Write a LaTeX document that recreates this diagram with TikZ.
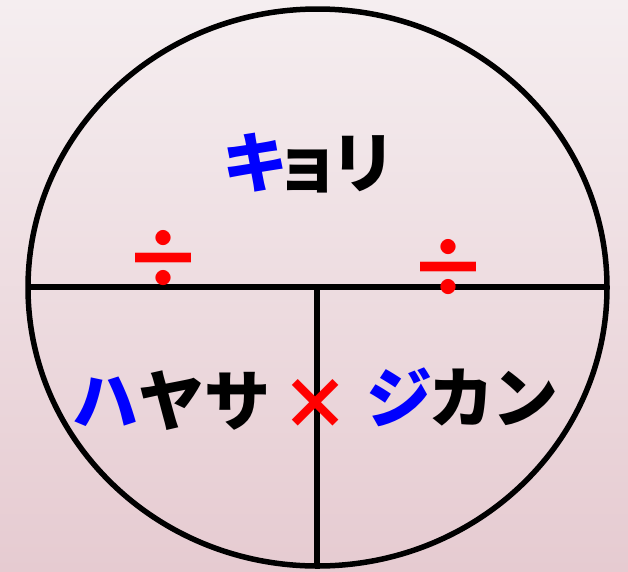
\documentclass[tikz,border=0pt]{standalone}
\usepackage{fontspec}
\newfontfamily\jp{Noto Sans CJK JP}[UprightFont=* Black]
\definecolor{bgtop}{RGB}{245,238,240}
\definecolor{bgbot}{RGB}{230,203,209}
\definecolor{kblue}{RGB}{0,0,255}
\definecolor{kred}{RGB}{255,0,0}
\begin{document}
\begin{tikzpicture}[x=1pt,y=-1pt,
  word/.style={font=\jp\fontsize{66}{66}\selectfont, inner sep=0pt},
  op/.style={font=\jp\fontsize{70}{70}\selectfont, text=kred, inner sep=0pt},
  divop/.style={font=\jp\fontsize{80}{80}\selectfont, text=kred, inner sep=0pt},
  rim/.style={line width=5.5pt, draw=black}]
\useasboundingbox (0,0) rectangle (628,571);
\shade[top color=bgtop, bottom color=bgbot] (0,0) rectangle (628,571);
\coordinate (c) at (317.5,287.5);
\coordinate (L) at (28,287);
\coordinate (R) at (607,287);
\coordinate (M) at (317,287);
\coordinate (B) at (317,566);
\draw[rim] (c) ellipse [x radius=289.5, y radius=278.5];
\draw[rim] (L) -- (R);
\draw[rim] (M) -- (B);
\node[word] (kyori) at (309,163) {\textcolor{kblue}{キ}\kern-14pt ョ\kern-10pt リ};
\node[word] (hayasa) at (171.5,401) {\textcolor{kblue}{ハ}ヤサ};
\node[word] (jikan) at (462.5,397) {\textcolor{kblue}{ジ}\kern-4pt カ\kern-2pt ン};
\node[op] (times) at (315,404) {×};
\node[divop] (div1) at (163,259) {÷};
\node[divop] (div2) at (448,268) {÷};
\end{tikzpicture}
\end{document}
